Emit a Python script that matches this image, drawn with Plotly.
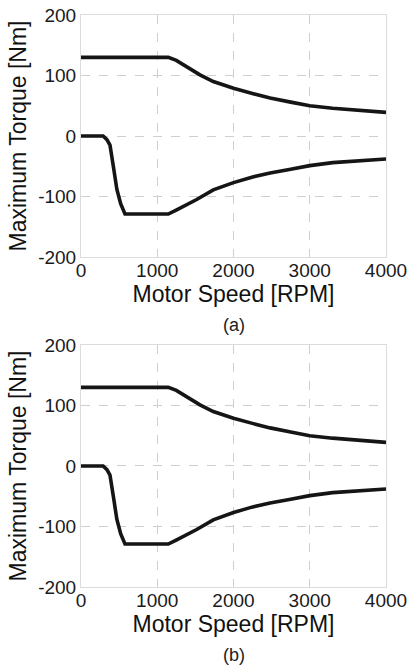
import plotly.graph_objects as go
from plotly.subplots import make_subplots

# motor speed [RPM] and torque envelope [Nm]
speed_upper = [0, 300, 600, 900, 1145, 1250, 1390, 1560, 1735, 2000, 2260, 2480, 2750, 3000, 3300, 3650, 4000]
torque_upper = [130, 130, 130, 130, 130, 125, 114, 101, 90, 79, 70, 63, 56, 50, 46, 42, 39]

speed_lower = [0, 290, 340, 380, 430, 470, 520, 577, 800, 1000, 1145, 1255, 1380, 1517, 1735, 2000, 2240, 2480, 2750, 3000, 3300, 3650, 4000]
torque_lower = [0, 0, -6, -15, -55, -88, -112, -129, -129, -129, -129, -122, -114, -105, -89, -77, -68, -61, -55, -49, -44, -41, -38]

y_ticks = [-200, -100, 0, 100, 200]
y_labels = ["-200", "-100", "0", "100", "200"]
x_ticks = [0, 1000, 2000, 3000, 4000]
panel_labels = ["(a)", "(b)"]

fig = make_subplots(rows=2, cols=1, vertical_spacing=0.1538)

for row in (1, 2):
    for xs, ys in ((speed_upper, torque_upper), (speed_lower, torque_lower)):
        fig.add_trace(go.Scatter(x=xs, y=ys, mode="lines",
                                 line=dict(color="#151515", width=3.6),
                                 showlegend=False), row=row, col=1)
    fig.update_xaxes(range=[0, 4000], tickvals=x_ticks, showgrid=True,
                     gridcolor="#cfcfcf", griddash="dash", gridwidth=1,
                     showline=True, linecolor="#dcdcdc", linewidth=1, mirror=True,
                     zeroline=False, ticks="", automargin=False, ticklabelstandoff=-4,
                     ticklabeloverflow="allow",
                     tickfont=dict(size=19, color="#1a1a1a"),
                     title=dict(text="Motor Speed [RPM]", font=dict(size=23, color="#111"), standoff=0),
                     row=row, col=1)
    fig.update_yaxes(range=[-200, 200], tickvals=y_ticks, ticktext=y_labels, showgrid=True,
                     gridcolor="#cfcfcf", griddash="dash", gridwidth=1,
                     showline=True, linecolor="#dcdcdc", linewidth=1, mirror=True,
                     zeroline=False, ticks="", automargin=False, ticklabeloverflow="allow",
                     tickfont=dict(size=19, color="#1a1a1a"),
                     title=dict(text="Maximum Torque [Nm]", font=dict(size=23, color="#111"), standoff=5),
                     row=row, col=1)

fig.update_layout(yaxis=dict(domain=[0.5769, 1.0]), yaxis2=dict(domain=[0.0, 0.4231]))

for label, yy in zip(panel_labels, [0.458, -0.119]):
    fig.add_annotation(text=label, x=0.5, y=yy, xref="paper", yref="paper",
                       xanchor="center", yanchor="middle",
                       showarrow=False, font=dict(size=18, color="#222"))

fig.update_layout(width=408, height=665, margin=dict(l=81, r=22, t=15, b=78),
                  plot_bgcolor="white", paper_bgcolor="white",
                  font=dict(family="Liberation Sans, Arial, sans-serif"))

# drop the default 8px page margin so the figure fills the window
fig.write_html("out.html", config={"displayModeBar": False},
               post_script="document.body.style.margin='0';")
